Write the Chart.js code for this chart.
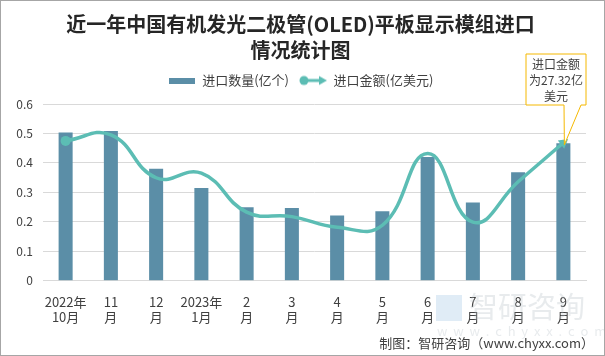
<!DOCTYPE html>
<html><head><meta charset="utf-8">
<script src="https://cdn.jsdelivr.net/npm/chart.js@4/dist/chart.umd.min.js"></script>
<style>
html,body{margin:0;padding:0;background:#fff;}
#wrap{position:relative;width:603px;height:354px;border:1px solid #a6a6a6;}
canvas{display:block;}
</style></head>
<body><div id="wrap"><canvas id="c" width="603" height="354"></canvas></div>
<script>
const categories = [["2022年","10月"],["11","月"],["12","月"],["2023年","1月"],["2","月"],["3","月"],["4","月"],["5","月"],["6","月"],["7","月"],["8","月"],["9","月"]];
const quantity = [0.503, 0.508, 0.38, 0.315, 0.25, 0.247, 0.222, 0.236, 0.42, 0.266, 0.368, 0.467];
const amount = [27.7, 28.9, 20.4, 21.3, 13.6, 12.7, 10.6, 11.0, 25.2, 11.6, 19.6, 27.32];
const yTicks = [0, 0.1, 0.2, 0.3, 0.4, 0.5, 0.6];
const seriesNames = ["进口数量(亿个)", "进口金额(亿美元)"];
const calloutText = ["进口金额", "为27.32亿", "美元"];
const sourceText = "制图：智研咨询（www.chyxx.com）";

const BAR = "#5b8ea7", LINE = "#5cbdb4";
const FONT = "'Microsoft YaHei','Noto Sans CJK SC','Noto Sans',sans-serif";

function barIcon(){const c=document.createElement('canvas');c.width=26;c.height=6;const x=c.getContext('2d');x.fillStyle=BAR;x.fillRect(0,0,26,6);return c;}
function lineIcon(){const c=document.createElement('canvas');c.width=28;c.height=12;const x=c.getContext('2d');
 x.strokeStyle=LINE;x.lineWidth=3;x.beginPath();x.moveTo(4,6);x.lineTo(22,6);x.stroke();
 x.fillStyle=LINE;x.beginPath();x.arc(5,6,4.5,0,Math.PI*2);x.fill();
 x.beginPath();x.moveTo(28,6);x.lineTo(20,1.5);x.lineTo(20,10.5);x.closePath();x.fill();return c;}
const icons=[barIcon(),lineIcon()];

const n = amount.length;
const legendGap = {
 id:'legendGap',
 beforeLayout(chart){
  const lg=chart.legend;
  if(lg && !lg._patched){const f=lg.fit.bind(lg); lg.fit=function(){f(); this.height+=7;}; lg._patched=true;}
 }
};
const calloutPlugin = {
 id:'callout',
 afterDatasetsDraw(chart){
  const meta = chart.getDatasetMeta(1);
  const p = meta.data[n-1];
  const ctx = chart.ctx;
  const bx=525, by=53, bw=60, bh=51;
  ctx.save();
  ctx.fillStyle='#fff'; ctx.strokeStyle='#f5b800'; ctx.lineWidth=1;
  ctx.beginPath();
  ctx.moveTo(bx,by); ctx.lineTo(bx+bw,by); ctx.lineTo(bx+bw,by+bh);
  ctx.lineTo(bx+bw-5,by+bh); ctx.lineTo(p.x+1,p.y+2); ctx.lineTo(bx+bw-22,by+bh);
  ctx.lineTo(bx,by+bh); ctx.closePath(); ctx.fill(); ctx.stroke();
  ctx.fillStyle='#404040'; ctx.font="12px "+FONT; ctx.textAlign='center'; ctx.textBaseline='middle';
  calloutText.forEach((t,i)=>ctx.fillText(t,bx+bw/2,by+10+i*16));
  ctx.restore();
 },
 afterDraw(chart){
  const ctx=chart.ctx; ctx.save();
  ctx.fillStyle='#404040'; ctx.font="13px "+FONT; ctx.textAlign='right'; ctx.textBaseline='middle';
  ctx.fillText(sourceText,593,342);
  ctx.restore();
 }
};
const watermark = {
 id:'wm',
 beforeDatasetsDraw(chart){
  const ctx=chart.ctx; ctx.save();
  ctx.fillStyle='rgba(185,192,200,0.32)';
  ctx.font="29px "+FONT; ctx.textBaseline='middle'; ctx.textAlign='left';
  ctx.fillText("智研咨询",468,306);
  ctx.font="13px "+FONT; ctx.fillText("w  w  w  .  c  h  y  x  x  .  c  o  m",436,330);
  ctx.fillStyle='rgba(165,200,230,0.35)'; ctx.fillRect(435,294,26,26);
  ctx.restore();
 }
};

new Chart(document.getElementById('c'),{
 data:{labels:categories,datasets:[
  {type:'bar',label:seriesNames[0],data:quantity,backgroundColor:BAR,yAxisID:'y',
   categoryPercentage:1,barPercentage:0.31,order:2},
  {type:'line',label:seriesNames[1],data:amount,borderColor:LINE,backgroundColor:LINE,yAxisID:'y1',
   borderWidth:3.5,tension:0.45,order:1,
   pointStyle:amount.map((v,i)=>i===n-1?'triangle':'circle'),
   pointRadius:amount.map((v,i)=>i===0?5:(i===n-1?6:0)),
   pointRotation:amount.map((v,i)=>i===n-1?52:0),
   pointBorderWidth:0}
 ]},
 options:{
  responsive:false,animation:false,
  layout:{padding:{left:14,right:18,top:4,bottom:25}},
  plugins:{
   title:{display:true,text:["近一年中国有机发光二极管(OLED)平板显示模组进口","情况统计图"],
     font:{size:20,weight:'bold',family:FONT,lineHeight:1.3},color:'#262626',padding:{top:6,bottom:1}},
   legend:{position:'top',labels:{usePointStyle:true,pointStyleWidth:28,padding:10,color:'#404040',
     font:{size:13,family:FONT},
     generateLabels:(chart)=>seriesNames.map((t,i)=>({text:t,pointStyle:icons[i],fillStyle:'transparent',strokeStyle:'transparent',lineWidth:0,datasetIndex:i,fontColor:'#404040'}))}},
   tooltip:{enabled:false}
  },
  scales:{
   x:{grid:{display:false},border:{color:'#d9d9d9'},
     ticks:{color:'#404040',font:{size:13,family:FONT},maxRotation:0,autoSkip:false,padding:5}},
   y:{min:0,max:0.6,afterBuildTicks:(s)=>{s.ticks=yTicks.map(v=>({value:v}));},
     afterFit:(s)=>{s.width=28;},
     grid:{color:'#d9d9d9',drawTicks:false},border:{display:false},
     ticks:{color:'#404040',font:{size:12,family:FONT},padding:10,callback:(v)=>String(+v.toFixed(1))}},
   y1:{display:false,min:0,max:35}
  }
 },
 plugins:[legendGap,calloutPlugin,watermark]
});
</script></body></html>
